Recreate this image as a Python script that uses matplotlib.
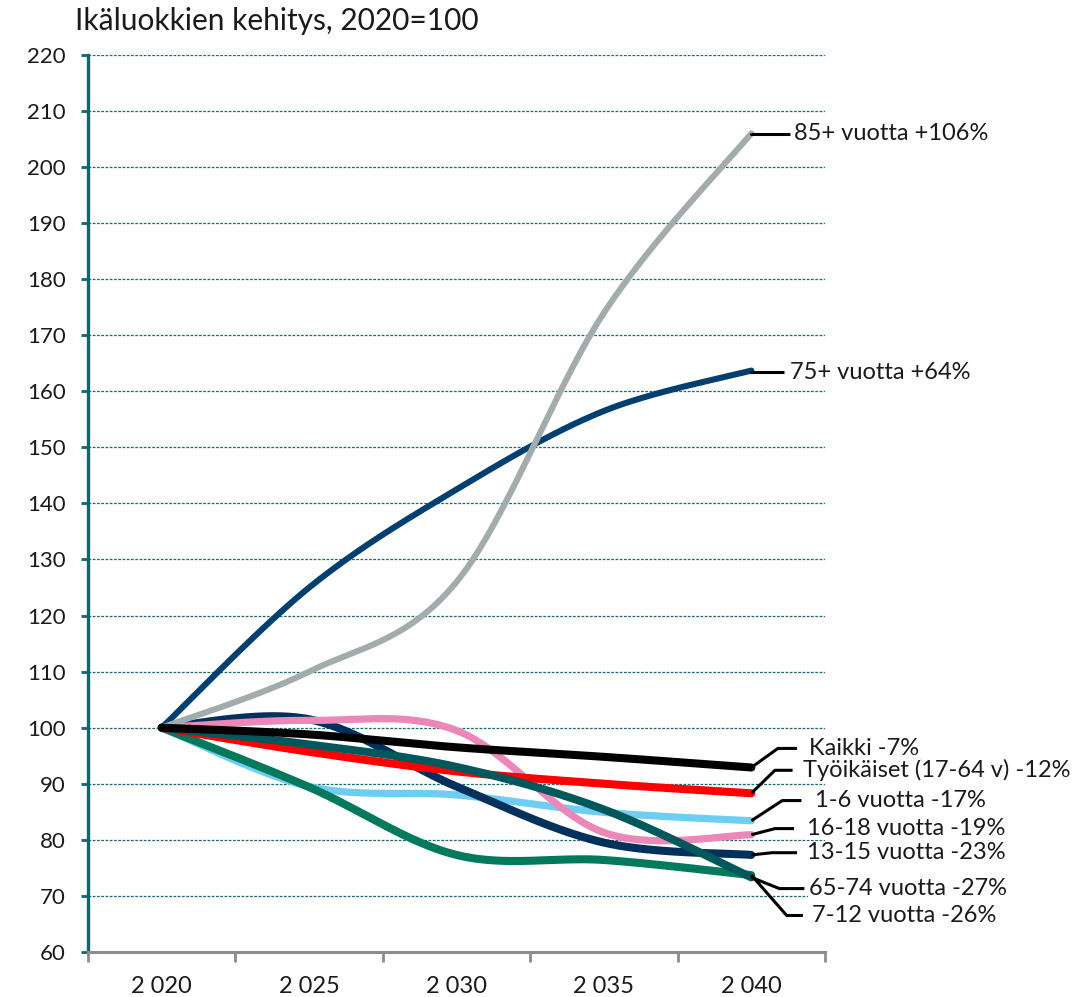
import numpy as np
import matplotlib.pyplot as plt

plt.rcParams['font.family'] = ['Lato', 'DejaVu Sans']

# vuodet ja indeksit (2020=100)
years = ['2 020', '2 025', '2 030', '2 035', '2 040']

ika_85 = [100, 110, 126, 174, 206]
ika_75 = [100, 125, 142.5, 156.5, 163.7]
kaikki = [100, 98.8, 96.5, 94.8, 92.9]
tyoikaiset = [100, 95.7, 92.2, 90.0, 88.3]
ika_1_6 = [100, 89.5, 88.0, 84.9, 83.4]
ika_16_18 = [100, 101.3, 99.5, 81.3, 80.9]
ika_13_15 = [100, 101.5, 89.5, 79.5, 77.3]
ika_65_74 = [100, 97.0, 93.0, 85.4, 73.3]
ika_7_12 = [100, 89.4, 77.3, 76.4, 73.7]

labels = ['85+ vuotta +106%', '75+ vuotta +64%', 'Kaikki -7%',
          'Työikäiset (17-64 v) -12%', '1-6 vuotta -17%', '16-18 vuotta -19%',
          '13-15 vuotta -23%', '65-74 vuotta -27%', '7-12 vuotta -26%']


def smooth(y, n=40):
    # Excel-tyylinen pehmennys (Catmull-Rom bezier)
    y = np.asarray(y, dtype=float)
    x = np.arange(len(y), dtype=float)
    xs, ys = [], []
    for i in range(len(y) - 1):
        i0 = max(i - 1, 0)
        i3 = min(i + 2, len(y) - 1)
        p1 = np.array([x[i], y[i]])
        p2 = np.array([x[i + 1], y[i + 1]])
        c1 = p1 + (p2 - np.array([x[i0], y[i0]])) / 6
        c2 = p2 - (np.array([x[i3], y[i3]]) - p1) / 6
        t = np.linspace(0, 1, n)[:, None]
        pts = (1 - t) ** 3 * p1 + 3 * (1 - t) ** 2 * t * c1 + 3 * (1 - t) * t ** 2 * c2 + t ** 3 * p2
        xs.extend(pts[:, 0])
        ys.extend(pts[:, 1])
    return np.array(xs), np.array(ys)


# (arvot, väri, viivan paksuus, zorder, nimiön y, taitekohta dx, viivan loppu dx, teksti dx)
series = [
    (ika_1_6, '#6dcdf2', 5.2, 3, 87.0, 0.21, 0.34, 0.43),
    (ika_7_12, '#00795c', 5.8, 4, 66.5, 0.24, 0.35, 0.41),
    (ika_13_15, '#00305c', 5.8, 5, 77.7, 0.14, 0.31, 0.38),
    (ika_16_18, '#ec88b9', 5.2, 6, 82.0, 0.16, 0.29, 0.38),
    (tyoikaiset, '#ff0000', 5.8, 7, 92.4, 0.16, 0.28, 0.35),
    (ika_65_74, '#00585c', 5.8, 8, 71.3, 0.19, 0.36, 0.39),
    (ika_75, '#003f70', 4.4, 9, 163.4, 0.0, 0.22, 0.26),
    (ika_85, '#a3acac', 4.4, 10, 205.9, 0.0, 0.26, 0.29),
    (kaikki, '#000000', 5.8, 11, 96.3, 0.18, 0.31, 0.39),
]
series_labels = [labels[4], labels[8], labels[6], labels[5], labels[3],
                 labels[7], labels[1], labels[0], labels[2]]

fig = plt.figure(figsize=(10.83, 9.97), dpi=100)
ax = fig.add_axes([0.0813, 0.0452, 0.6805, 0.8997])

for (vals, color, lw, z, ly, ex, lx, tx), name in zip(series, series_labels):
    sx, sy = smooth(vals)
    ax.plot(sx, sy, color=color, lw=lw, solid_capstyle='round', zorder=z)
    end = len(vals) - 1
    ax.plot([end, end + ex, end + lx], [vals[-1], ly, ly], color='black',
            lw=2.2, clip_on=False, zorder=20, solid_capstyle='butt')
    ax.text(end + tx, ly, name, fontsize=17, color='#1a1a1a', va='center',
            ha='left', clip_on=False, zorder=21,
            bbox=dict(facecolor='white', edgecolor='none', pad=0.5))

ax.set_xlim(-0.5, len(years) - 0.5)
ax.set_ylim(60, 220)
ax.set_yticks(np.arange(60, 221, 10))
ax.yaxis.grid(True, color='#1c6a70', linestyle=(0, (2.2, 1.2)), lw=0.9)
ax.set_axisbelow(True)

ax.set_xticks(np.arange(-0.5, len(years), 1.0))
ax.set_xticklabels([])
ax.set_xticks(np.arange(len(years)), minor=True)
ax.set_xticklabels(years, minor=True)
ax.tick_params(axis='x', which='major', direction='out', length=7, width=2,
               color='#8c8c8c')
ax.tick_params(axis='x', which='minor', length=0, pad=17, labelsize=17,
               labelcolor='#1a1a1a')
ax.tick_params(axis='y', direction='out', length=5, width=2, color='#11666e',
               pad=11, labelsize=16, labelcolor='#1a1a1a')

for side in ['top', 'right']:
    ax.spines[side].set_visible(False)
ax.spines['left'].set_color('#11666e')
ax.spines['left'].set_linewidth(2.4)
ax.spines['bottom'].set_color('#8c8c8c')
ax.spines['bottom'].set_linewidth(2.2)

fig.text(0.069, 0.979, 'Ikäluokkien kehitys, 2020=100', fontsize=21.5,
         color='#1a1a1a', va='center', ha='left')

fig.savefig('out.png', dpi=100)
